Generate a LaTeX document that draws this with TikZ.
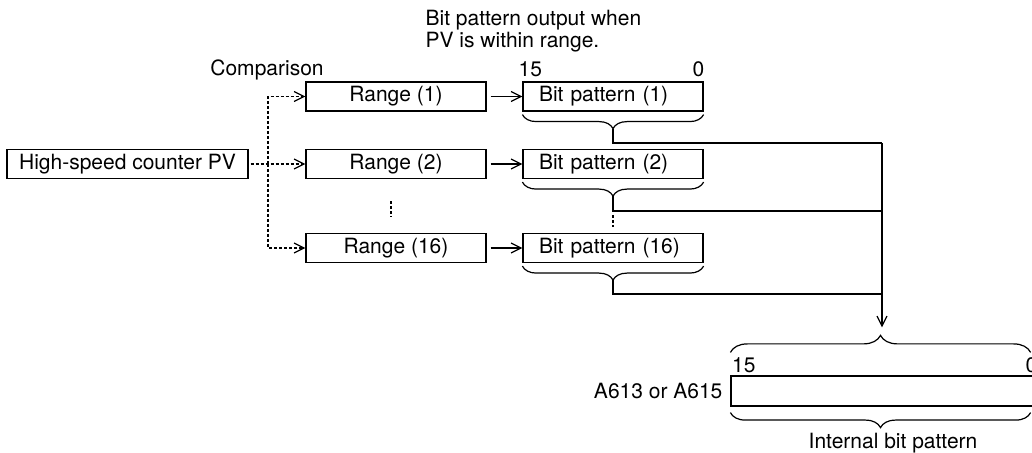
\documentclass[tikz,border=0pt]{standalone}
\usepackage{fontspec}
\setmainfont{TeX Gyre Heros}
\usetikzlibrary{arrows.meta,decorations.pathreplacing}

\begin{document}
\begin{tikzpicture}[
    x=0.5pt, y=-0.5pt,
    >={Straight Barb[length=5pt, width=5pt]},
    line width=0.6pt,
    every node/.style={inner sep=0pt, font=\fontsize{10.5pt}{11pt}\selectfont},
    regbox/.style={draw, minimum height=14.5pt, inner xsep=3pt},
    rangebox/.style={regbox, minimum width=90pt},
    bitbox/.style={regbox, text width=74pt, align=left, inner xsep=8pt},
    cmpline/.style={dash pattern=on 1.5pt off 1pt},
    bracedeco/.style={decorate, decoration={brace, amplitude=#1}},
    bracedeco/.default=7pt
]
\useasboundingbox[fill=white] (0,0) rectangle (1032,453);

% source and comparison ranges
\node[regbox, minimum width=120.5pt] (hsc) at (127.5,164) {High-speed counter PV};
\node[rangebox] (r1) at (396,96.5) {Range (1)};
\node[rangebox] (r2) at (396,164) {Range (2)};
\node[rangebox] (r16) at (396,248) {Range (16)};
\node[anchor=base] (cmp) at (267,76) {Comparison};

% bit patterns
\node[bitbox] (bp1) at (613,96.5) {Bit pattern (1)};
\node[bitbox] (bp2) at (613,164) {Bit pattern (2)};
\node[bitbox] (bp16) at (613,248) {Bit pattern (16)};
\node[anchor=north west, align=left] (note) at (425,10) {Bit pattern output when\\PV is within range.};
\node[anchor=base west] (msb) at (518,77) {15};
\node[anchor=base east] (lsb) at (705,77) {0};

\coordinate (split) at (268,164);
\draw[cmpline, ->, shorten <=1pt] (hsc.east) -- (r2.west);
\draw[cmpline, ->] (split) |- (r1.west);
\draw[cmpline, ->] (split) |- (r16.west);
\draw[cmpline] ([xshift=-2.5pt, yshift=-11pt]r2.south) -- ([xshift=-2.5pt, yshift=8pt]r16.north);

\draw[->, shorten <=2pt] (r1.east) -- (bp1.west);
\draw[->, shorten <=2pt] (r2.east) -- (bp2.west);
\draw[->, shorten <=2pt] (r16.east) -- (bp16.west);

% braces under the bit patterns
\draw[bracedeco] ([yshift=-1.5pt]bp1.south east) -- ([yshift=-1.5pt]bp1.south west);
\draw[bracedeco] ([yshift=-1.5pt]bp2.south east) -- ([yshift=-1.5pt]bp2.south west);
\draw[bracedeco] ([yshift=-1.5pt]bp16.south east) -- ([yshift=-1.5pt]bp16.south west);
\coordinate (t1) at ([yshift=-8.5pt]bp1.south);
\coordinate (t2) at ([yshift=-8.5pt]bp2.south);
\coordinate (t16) at ([yshift=-8.5pt]bp16.south);

\coordinate (j1) at (882,143);
\coordinate (j2) at (882,211);
\coordinate (j16) at (882,294);
\draw (t1) |- (j1);
\draw (t2) |- (j2);
\draw (t16) |- (j16);
\draw[cmpline] ([yshift=-9.5pt]t2) -- ([yshift=3pt]bp16.north);

% internal bit pattern
\node[draw, minimum width=151pt, minimum height=15pt] (ib) at (882,391) {};
\node[anchor=east] (reg) at (723,391) {A613 or A615};
\node[anchor=base west] (imsb) at (731.5,373) {15};
\node[anchor=base west] (ilsb) at (1025,373) {0};
\coordinate (ibtip) at ([yshift=20pt]ib.north);
\draw[bracedeco=8.5pt] ([yshift=11.5pt]ib.north west) -- ([xshift=-1.5pt, yshift=11.5pt]ib.north east);
\draw[->, shorten >=4pt] (j1) -- (ibtip);
\draw[bracedeco=7.5pt] ([xshift=-1.5pt, yshift=-3pt]ib.south east) -- ([yshift=-3pt]ib.south west);
\node[anchor=base] (ibname) at (893,449) {Internal bit pattern};

\end{tikzpicture}
\end{document}
